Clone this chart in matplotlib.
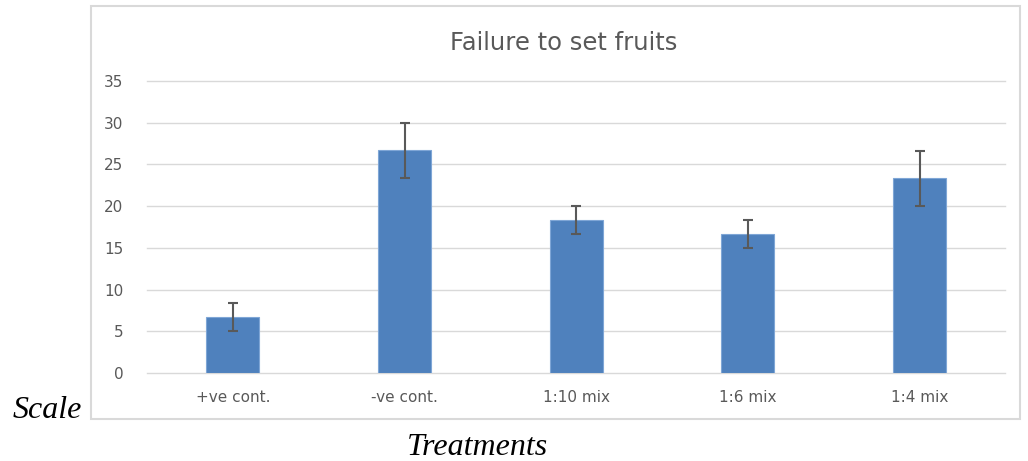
import numpy as np
import matplotlib
matplotlib.use("Agg")
import matplotlib.pyplot as plt
from matplotlib.patches import Rectangle

# data
treatments = ["+ve cont.", "-ve cont.", "1:10 mix", "1:6 mix", "1:4 mix"]
failure = [6.67, 26.67, 18.33, 16.67, 23.33]
errors = [1.67, 3.33, 1.67, 1.67, 3.33]
y_ticks = [0, 5, 10, 15, 20, 25, 30, 35]

BAR_COLOR = "#4F81BD"
TEXT_GREY = "#595959"
GRID_GREY = "#D9D9D9"

plt.rcParams["font.family"] = "DejaVu Sans"

fig = plt.figure(figsize=(10.28, 4.61), dpi=100)
ax = fig.add_axes([0.143, 0.1909, 0.835, 0.6334])

# chart frame (the Excel chart border)
fig.patches.append(Rectangle((0.0885, 0.0911), 0.9037, 0.896, transform=fig.transFigure,
                             fill=False, edgecolor=GRID_GREY, linewidth=1.5))

x = np.arange(len(treatments))
ax.bar(x, failure, width=0.31, color=BAR_COLOR, edgecolor="#7FA6D6", linewidth=0.8, zorder=3)
ax.errorbar(x, failure, yerr=errors, fmt="none", ecolor=TEXT_GREY, elinewidth=1.5,
            capsize=3.8, capthick=1.5, zorder=4)

ax.set_xlim(-0.5, len(treatments) - 0.5)
ax.set_ylim(0, 35)
ax.set_yticks(y_ticks)
ax.set_xticks(x)
ax.set_xticklabels(treatments)
ax.grid(axis="y", color=GRID_GREY, linewidth=1, zorder=0)
for gl in ax.get_ygridlines():
    gl.set_clip_on(False)
ax.tick_params(axis="both", length=0, labelsize=11, colors=TEXT_GREY)
ax.tick_params(axis="y", pad=17)
ax.tick_params(axis="x", pad=12)
for s in ax.spines.values():
    s.set_visible(False)

fig.text(0.548, 0.907, "Failure to set fruits", ha="center", va="center",
         fontsize=17.5, color=TEXT_GREY)

fig.text(0.012, 0.11, "Scale", ha="left", va="center", fontsize=23,
         family="Liberation Serif", style="italic")
fig.text(0.465, 0.03, "Treatments", ha="center", va="center", fontsize=23,
         family="Liberation Serif", style="italic")

fig.savefig("out.png", dpi=100)
